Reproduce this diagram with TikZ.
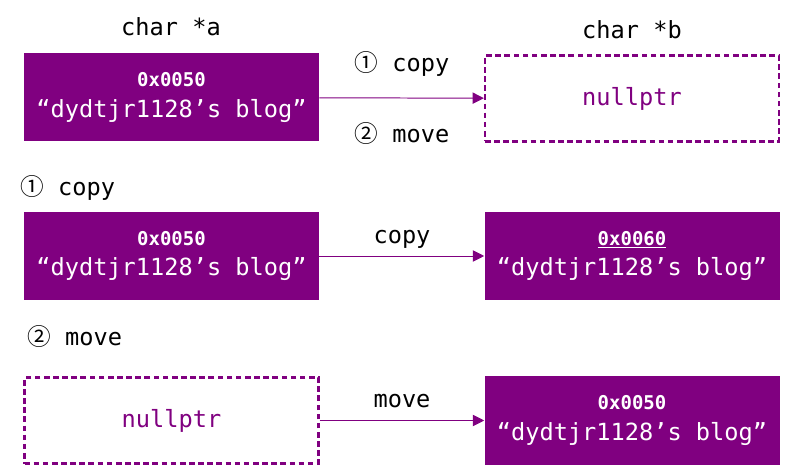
\documentclass[tikz,border=0pt]{standalone}
\usepackage{fontspec}
\setmonofont{DejaVu Sans Mono}
\newfontfamily\circfont{Noto Sans CJK KR}
\usetikzlibrary{arrows.meta,positioning}
\definecolor{ptrpurple}{HTML}{800080}

\begin{document}
\begin{tikzpicture}[
      x=0.025cm,
      y=-0.025cm,
      font=\ttfamily\fontsize{16.8}{20}\selectfont,
      memfull/.style={fill=ptrpurple, text=white, align=center, minimum width=295*0.025cm, minimum height=88*0.025cm, inner sep=0pt},
      memnull/.style={draw=ptrpurple, line width=1.6pt, dash pattern=on 4pt off 2.5pt, text=ptrpurple, minimum width=294*0.025cm, minimum height=86*0.025cm, inner sep=0pt},
      lbl/.style={inner sep=0pt, text=black},
      arrow/.style={-{Triangle[length=8pt,width=8pt]}, ptrpurple, line width=0.7pt}
  ]
  \useasboundingbox (0,0) rectangle (789,471);
  % rows: before=98, copy=256, move=420

  % --- before ---
  \node[lbl] (namea) at (171,27) {char *a};
  \node[lbl] (nameb) at (632,30) {char *b};
  \node[memfull] (a1) at (171.5,97.5) {{\fontsize{13.5}{15}\selectfont\bfseries 0x0050}\\[2pt]“dydtjr1128’s blog”};
  \node[memnull] (b1) at (632,98.5) {nullptr};
  \node[lbl] (op1) at (402,64) {{\circfont ①}\ copy};
  \node[lbl] (op2) at (402,134) {{\circfont ②}\ move};

  % --- copy ---
  \node[lbl, anchor=west] (stepcopy) at (20,188) {{\circfont ①}\ copy};
  \node[memfull] (a2) at (171.5,256) {{\fontsize{13.5}{15}\selectfont\bfseries 0x0050}\\[2pt]“dydtjr1128’s blog”};
  \node[memfull] (b2) at (632,256) {{\fontsize{13.5}{15}\selectfont\bfseries \underline{0x0060}}\\[2pt]“dydtjr1128’s blog”};
  \node[lbl] (lblcopy) at (402,239) {copy};

  % --- move ---
  \node[lbl, anchor=west] (stepmove) at (27,337) {{\circfont ②}\ move};
  \node[memnull] (a3) at (171.5,420.5) {nullptr};
  \node[memfull] (b3) at (632,420.5) {{\fontsize{13.5}{15}\selectfont\bfseries 0x0050}\\[2pt]“dydtjr1128’s blog”};
  \node[lbl] (lblmove) at (402,401) {move};

  % --- Arrows ---
  \draw[arrow] (a1) -- (b1);
  \draw[arrow] (a2) -- (b2);
  \draw[arrow] (a3) -- (b3);

\end{tikzpicture}
\end{document}
